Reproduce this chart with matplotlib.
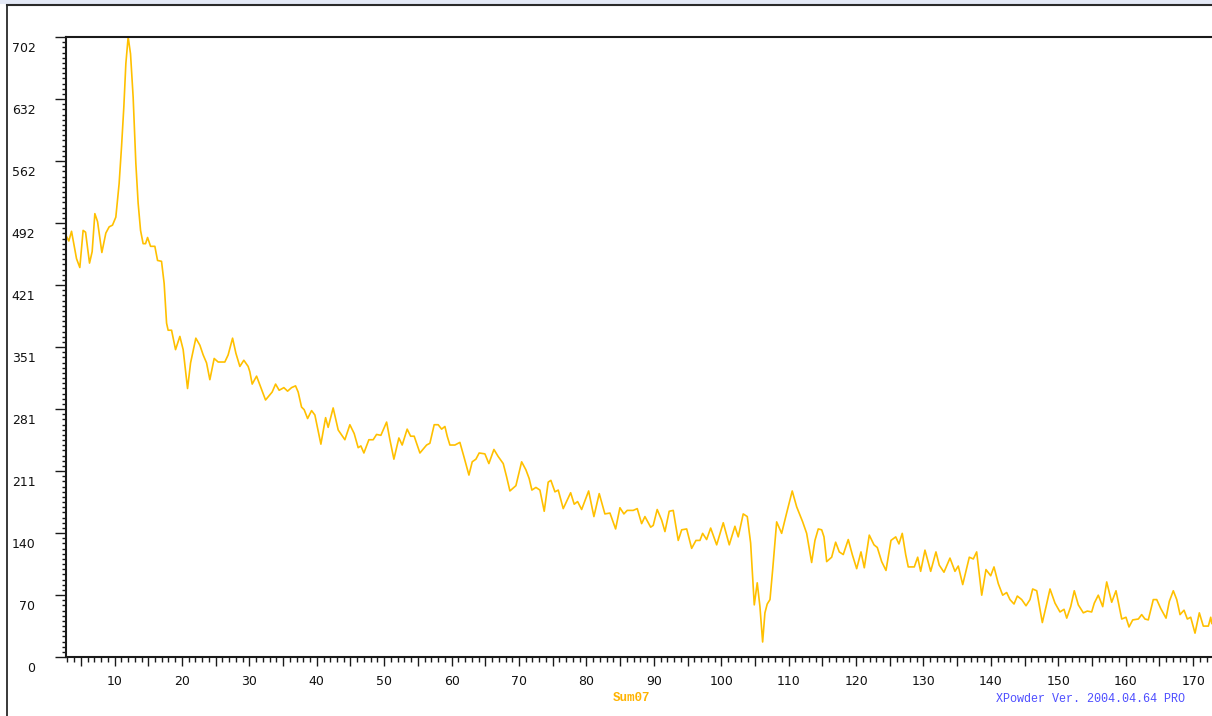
import matplotlib
matplotlib.use("Agg")
import matplotlib.pyplot as plt
import numpy as np
from matplotlib.lines import Line2D
from matplotlib.patches import Rectangle
from matplotlib.ticker import MultipleLocator, FixedLocator, FuncFormatter
from matplotlib.transforms import ScaledTranslation

# pattern (2-theta, counts)
two_theta = [
    2.88, 3.22, 3.62, 3.96, 4.36, 4.85, 5.34, 5.70, 6.29, 6.68, 7.08, 7.48, 8.12, 8.71, 9.20,
    9.70, 10.19, 10.68, 11.04, 11.38, 11.68, 12.02, 12.37, 12.76, 13.16, 13.50, 13.86, 14.24,
    14.60, 14.90, 15.34, 15.98, 16.38, 16.97, 17.36, 17.72, 17.95, 18.46, 19.05, 19.69, 20.18,
    20.83, 21.28, 22.06, 22.66, 23.15, 23.65, 24.14, 24.78, 25.37, 26.36, 26.85, 27.51, 28.00,
    28.59, 29.18, 29.82, 30.07,
    30.42, 31.07, 31.56, 32.40, 33.04, 33.38, 33.89, 34.42, 35.12, 35.67, 36.26, 36.85, 37.24,
    37.74, 38.13, 38.64, 39.23, 39.72, 40.12, 40.61, 41.31, 41.69, 42.43, 43.18, 44.17, 44.91,
    45.55, 46.14, 46.54, 46.99, 47.73, 48.37, 48.87, 49.51, 50.36, 50.85, 51.44, 52.18, 52.67,
    53.41, 53.92, 54.45, 55.30, 56.29, 56.78, 57.42, 58.01, 58.52, 59.01,
    59.35, 59.75, 60.49, 61.23, 61.82, 62.57, 63.06, 63.61, 64.09, 64.94, 65.53, 66.28, 66.91,
    67.66, 68.16, 68.65, 69.54, 70.39, 71.02, 71.51, 71.91, 72.51, 73.10, 73.74, 74.33, 74.73,
    75.33, 75.82, 76.56, 77.66, 78.19, 78.69, 79.29, 80.33, 81.11, 81.90, 82.74, 83.49, 84.33,
    84.97, 85.56, 86.05, 86.94,
    87.54, 88.19, 88.68, 89.53, 89.91, 90.50, 91.16, 91.65, 92.28, 92.88, 93.62, 94.13, 94.87,
    95.61, 96.25, 96.84, 97.24, 97.83, 98.43, 99.32, 100.30, 101.19, 102.03, 102.52, 103.26,
    103.86, 104.36, 104.66, 104.90, 105.34, 105.74, 106.14, 106.48, 106.82, 107.23, 107.63,
    108.22, 108.96, 109.70, 110.53, 111.19, 112.08, 112.67, 113.41, 113.90, 114.39, 114.90,
    115.24, 115.64, 116.38, 116.97, 117.51, 118.10, 118.84, 119.44, 120.09, 120.73, 121.22,
    121.96, 122.66, 123.15, 123.80, 124.44, 125.18, 125.88, 126.36, 126.85, 127.36, 127.74,
    128.64, 129.14, 129.58, 130.22, 131.07, 131.85, 132.34, 133.04, 133.93, 134.67, 135.16,
    135.82, 136.80, 137.39, 137.89, 138.64, 139.27, 139.97, 140.46, 141.10, 141.75, 142.34,
    142.83,
    143.43, 143.92, 144.57, 145.21, 145.80, 146.20, 146.80, 147.63, 148.18, 148.77, 149.51,
    150.25, 150.85, 151.25, 151.84, 152.37, 152.97, 153.71, 154.30, 154.95, 155.34, 155.93,
    156.59, 157.18, 157.92, 158.56, 159.41, 160.04, 160.49, 161.04, 161.87, 162.37, 162.86,
    163.35, 164.09, 164.60, 165.19, 165.98, 166.47, 167.06, 167.57, 168.06, 168.65, 169.14,
    169.64, 170.28, 170.92, 171.51, 172.26, 172.61, 172.76,
]
counts = [
    476, 471, 482, 468, 451, 441, 483, 481, 446, 459, 502, 493, 458, 480, 487,
    489, 498, 536, 578, 623, 672, 702, 683, 634, 559, 514, 483, 468,
    468, 475, 465, 465, 449, 448, 423, 378, 370, 370, 348, 363, 348,
    304, 333, 361, 353, 342, 333, 314, 338, 334, 334, 342, 361, 344,
    329, 336, 329, 323,
    309, 318, 308, 291, 297, 300, 309, 302, 305, 301, 305, 307, 300,
    283, 280, 270, 279, 274, 259, 241, 271, 260, 282, 257, 246, 263,
    253, 237, 239, 231, 246, 246, 252, 251, 266, 246, 224, 248, 240,
    258, 250, 250, 231, 240, 242, 263, 263, 258, 261,
    250, 240, 240, 243, 227, 206, 221, 224, 231, 230, 219, 235, 227,
    219, 204, 188, 194, 221, 212, 202, 189, 192, 189, 165, 198, 200,
    187, 189, 168, 186, 173, 176, 167, 188, 159, 185, 162, 163, 145,
    169, 162, 166, 166,
    168, 151, 159, 147, 149, 167, 155, 142, 165, 166, 132, 144, 145,
    123, 132, 132, 140, 133, 146, 127, 152, 127, 148, 136, 162,
    159, 129, 91, 59, 84, 57, 17, 50, 60, 65, 99,
    153, 140, 163, 188, 170, 153, 140, 107, 132, 145, 144,
    136, 108, 113, 130, 119, 116, 133, 116, 100, 119, 101,
    138, 127, 124, 108, 98, 132, 136, 128, 140, 116, 102,
    102, 113, 97, 121, 97, 119, 104, 96, 112, 97, 103,
    82, 113, 111, 119, 70, 99, 92, 102, 83, 70, 73,
    65,
    60, 69, 65, 58, 65, 77, 75, 39, 57, 77, 61,
    51, 54, 44, 57, 75, 59, 50, 52, 51, 61, 70,
    57, 85, 62, 75, 43, 45, 34, 42, 43, 48, 43,
    42, 65, 65, 55, 44, 63, 75, 65, 48, 53, 43,
    45, 27, 50, 35, 35, 45, 38,
]

y_max = 702
y_labels = ["0", "70", "140", "211", "281", "351", "421", "492", "562", "632", "702"]
x_range = (2.8, 172.8)
sample_name = "Sum07"
footer = "XPowder Ver. 2004.04.64 PRO"

W, H = 1212, 716
fig = plt.figure(figsize=(W / 100, H / 100), dpi=100)
fig.patch.set_facecolor("white")

# window frame bits
fig.add_artist(Rectangle((0, 1 - 4 / H), 1, 4 / H, transform=fig.transFigure,
                         facecolor="#e4e9f6", edgecolor="none"))
fig.add_artist(Line2D([7 / W, 1], [1 - 5 / H, 1 - 5 / H], transform=fig.transFigure,
                      color="#2a2a2a", lw=1.5))
fig.add_artist(Line2D([7 / W, 7 / W], [0, 1 - 5 / H], transform=fig.transFigure,
                      color="#2a2a2a", lw=1.3))

ax = fig.add_axes([66 / W, 59 / H, (W - 66) / W, 620 / H])
ax.plot(two_theta, counts, color="#ffc000", lw=1.2, clip_on=True)
ax.set_xlim(*x_range)
ax.set_ylim(0, y_max)

for side in ["left", "bottom", "top"]:
    ax.spines[side].set_linewidth(1.5)
    ax.spines[side].set_color("#1a1a1a")
ax.spines["right"].set_visible(False)

# x axis: long ticks every 5, labels every 10, short ticks every 1
ax.xaxis.set_major_locator(MultipleLocator(5))
ax.xaxis.set_minor_locator(MultipleLocator(1))
ax.xaxis.set_major_formatter(FuncFormatter(lambda v, p: "%d" % v if int(round(v)) % 10 == 0 else ""))
ax.tick_params(axis="x", which="major", direction="out", length=6.5, width=1.0,
               pad=6.5, labelsize=9, labelcolor="#111111", color="#1a1a1a")
ax.tick_params(axis="x", which="minor", direction="out", length=3.5, width=1.0, color="#1a1a1a")

# y axis: 10 divisions, 12 minor per division
ax.set_yticks(np.linspace(0, y_max, 11), y_labels)
ax.yaxis.set_minor_locator(FixedLocator(np.linspace(0, y_max, 121)))
ax.tick_params(axis="y", which="major", direction="out", length=8, width=1.0,
               pad=14, labelsize=9, labelcolor="#111111", color="#1a1a1a")
ax.tick_params(axis="y", which="minor", direction="out", length=3, width=1.0, color="#1a1a1a")

shift = ScaledTranslation(0, -0.10, fig.dpi_scale_trans)
for lab in ax.get_yticklabels():
    lab.set_transform(lab.get_transform() + shift)

fig.text(632 / W, 1 - 698 / H, sample_name, color="#ffb300", family="Liberation Mono",
         weight="bold", size=9, ha="center", va="center")
fig.text(1090 / W, 1 - 699 / H, footer, color="#4d4dff", family="Liberation Mono",
         size=8.5, ha="center", va="center")

fig.savefig("out.png", dpi=100)
